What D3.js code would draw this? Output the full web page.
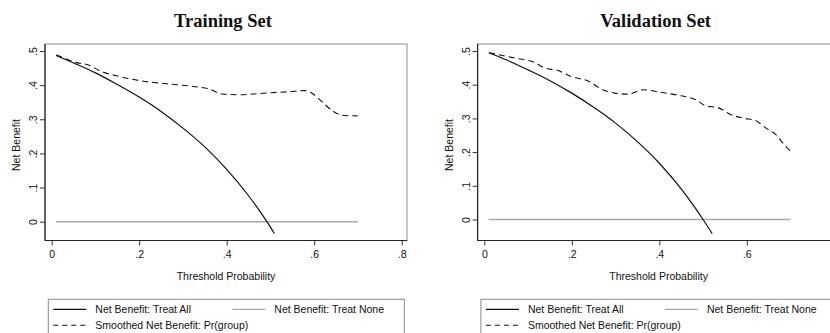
<!DOCTYPE html>
<html>
<head>
<meta charset="utf-8">
<script src="https://cdn.jsdelivr.net/npm/d3@7"></script>
<style>
  body { margin: 0; background: #fff; }
  svg { display: block; }
  text { font-family: "Liberation Sans", Arial, sans-serif; fill: #111; }
  .title { font-family: "Liberation Serif", "Times New Roman", serif; font-weight: bold; font-size: 18.5px; }
</style>
</head>
<body>
<svg id="chart" width="830" height="333"></svg>
<script>
// decision curves, values

const xTicks = [0, 0.2, 0.4, 0.6, 0.8];
const xTickLabels = ["0", ".2", ".4", ".6", ".8"];
const yTicks = [0, 0.1, 0.2, 0.3, 0.4, 0.5];
const yTickLabels = ["0", ".1", ".2", ".3", ".4", ".5"];

const panelTitles = ["Training Set", "Validation Set"];
const legendLabels = ["Net Benefit: Treat All", "Net Benefit: Treat None", "Smoothed Net Benefit: Pr(group)"];

// treat none (same for both)
const noneX = [0.01, 0.70];
const noneY = [0, 0];

// training set
const trainAllX = [0.01, 0.05, 0.10, 0.15, 0.20, 0.25, 0.30, 0.35, 0.40, 0.45, 0.48, 0.50, 0.509];
const trainAllY = [0.487, 0.465, 0.436, 0.402, 0.365, 0.323, 0.274, 0.219, 0.153, 0.076, 0.023, -0.016, -0.035];
const trainSmoothX = [0.011, 0.057, 0.084, 0.110, 0.156, 0.202, 0.263, 0.324, 0.362, 0.389, 0.430, 0.491, 0.545, 0.579, 0.594, 0.617, 0.644, 0.667, 0.699];
const trainSmoothY = [0.489, 0.466, 0.459, 0.442, 0.425, 0.413, 0.404, 0.396, 0.388, 0.374, 0.372, 0.377, 0.381, 0.384, 0.377, 0.352, 0.323, 0.311, 0.310];

// validation set
const validAllX = [0.01, 0.05, 0.10, 0.15, 0.20, 0.25, 0.30, 0.35, 0.40, 0.45, 0.48, 0.50, 0.521];
const validAllY = [0.495, 0.474, 0.444, 0.412, 0.375, 0.333, 0.286, 0.231, 0.167, 0.091, 0.038, 0, -0.042];
const validSmoothX = [0.011, 0.062, 0.116, 0.138, 0.169, 0.199, 0.237, 0.268, 0.298, 0.328, 0.363, 0.405, 0.450, 0.481, 0.507, 0.534, 0.564, 0.591, 0.621, 0.644, 0.667, 0.679, 0.699];
const validSmoothY = [0.495, 0.481, 0.465, 0.450, 0.442, 0.424, 0.411, 0.387, 0.375, 0.372, 0.385, 0.377, 0.367, 0.357, 0.337, 0.332, 0.311, 0.301, 0.293, 0.271, 0.251, 0.232, 0.204];

const zip = (xs, ys) => xs.map((x, i) => [x, ys[i]]);

const W = 830;
const svg = d3.select("#chart");

function drawPanel(cfg) {
  const g = svg.append("g").attr("transform", `translate(${cfg.dx},0)`);
  const x = d3.scaleLinear().domain([0, 0.8]).range([51.7, 401.7]);
  const y = d3.scaleLinear().domain([0, 0.5]).range([cfg.y0, 51]);
  const left = 45, right = 407, top = 44, bottom = 240.5;

  // the right panel runs past the window edge, so drop ticks that fall outside
  const xt = xTicks.filter(v => cfg.dx + x(v) + 6 < W);

  g.append("text").attr("class", "title")
    .attr("x", 223).attr("y", 27).attr("text-anchor", "middle")
    .text(cfg.title);

  // plot region outline
  g.append("rect")
    .attr("x", left).attr("y", top)
    .attr("width", right - left).attr("height", bottom - top)
    .attr("fill", "none").attr("stroke", "#8a8a8a").attr("stroke-width", 1);

  // y axis
  const yAxis = g.append("g").attr("transform", `translate(${left},0)`)
    .call(d3.axisLeft(y).tickValues(yTicks).tickSize(5).tickSizeOuter(0)
      .tickFormat((d, i) => yTickLabels[i]));
  yAxis.select(".domain").remove();
  yAxis.selectAll("line").attr("stroke", "#333");
  yAxis.selectAll("text")
    .attr("x", null).attr("dy", null)
    .attr("transform", "translate(-8,0) rotate(-90)")
    .attr("text-anchor", "middle")
    .style("font-size", "10.5px").style("font-family", "Liberation Sans, Arial, sans-serif").attr("fill", "#111");

  // x axis
  const xAxis = g.append("g").attr("transform", `translate(0,${bottom})`)
    .call(d3.axisBottom(x).tickValues(xt).tickSize(5).tickPadding(5).tickSizeOuter(0)
      .tickFormat(d => xTickLabels[xTicks.indexOf(d)]));
  xAxis.select(".domain").remove();
  xAxis.selectAll("line").attr("stroke", "#333");
  xAxis.selectAll("text")
    .style("font-size", "10.5px").style("font-family", "Liberation Sans, Arial, sans-serif").attr("fill", "#111");

  // dark axis lines
  g.append("line").attr("x1", left).attr("x2", left).attr("y1", top).attr("y2", bottom)
    .attr("stroke", "#222").attr("stroke-width", 1.2);
  g.append("line").attr("x1", left).attr("x2", right).attr("y1", bottom).attr("y2", bottom)
    .attr("stroke", "#222").attr("stroke-width", 1.2);

  // axis titles
  g.append("text").attr("transform", "translate(20,145) rotate(-90)")
    .attr("text-anchor", "middle").style("font-size", "10.5px").text("Net Benefit");
  g.append("text").attr("x", 226).attr("y", 280)
    .attr("text-anchor", "middle").style("font-size", "10.5px").text("Threshold Probability");

  const line = d3.line().x(d => x(d[0])).y(d => y(d[1]));
  const smooth = d3.line().x(d => x(d[0])).y(d => y(d[1])).curve(d3.curveMonotoneX);

  g.append("path").datum(zip(noneX, noneY)).attr("d", line)
    .attr("fill", "none").attr("stroke", "#aaa").attr("stroke-width", 1.5);
  g.append("path").datum(zip(cfg.allX, cfg.allY)).attr("d", smooth)
    .attr("fill", "none").attr("stroke", "#111").attr("stroke-width", 1.2);
  g.append("path").datum(zip(cfg.smX, cfg.smY)).attr("d", smooth)
    .attr("fill", "none").attr("stroke", "#111").attr("stroke-width", 1.1)
    .attr("stroke-dasharray", "6,4");

  // legend
  const lg = g.append("g").attr("transform", "translate(48.3,299.3)");
  lg.append("rect").attr("x", 0).attr("y", 0).attr("width", 356).attr("height", 60)
    .attr("fill", "#fff").attr("stroke", "#8a8a8a");
  const items = [
    { lx: 5, ly: 10, stroke: "#111", dash: null, w: 1.2, tx: 47, label: legendLabels[0] },
    { lx: 184, ly: 10, stroke: "#aaa", dash: null, w: 1.2, tx: 226, label: legendLabels[1] },
    { lx: 5, ly: 26, stroke: "#111", dash: "5,4", w: 1.1, tx: 47, label: legendLabels[2] }
  ];
  items.forEach(it => {
    lg.append("line").attr("x1", it.lx).attr("x2", it.lx + 33).attr("y1", it.ly).attr("y2", it.ly)
      .attr("stroke", it.stroke).attr("stroke-width", it.w).attr("stroke-dasharray", it.dash);
    lg.append("text").attr("x", it.tx).attr("y", it.ly + 3.7)
      .style("font-size", "10.5px").text(it.label);
  });
}

drawPanel({ dx: 0, y0: 221.7, title: panelTitles[0],
  allX: trainAllX, allY: trainAllY, smX: trainSmoothX, smY: trainSmoothY });
drawPanel({ dx: 432.6, y0: 219.5, title: panelTitles[1],
  allX: validAllX, allY: validAllY, smX: validSmoothX, smY: validSmoothY });
</script>
</body>
</html>
